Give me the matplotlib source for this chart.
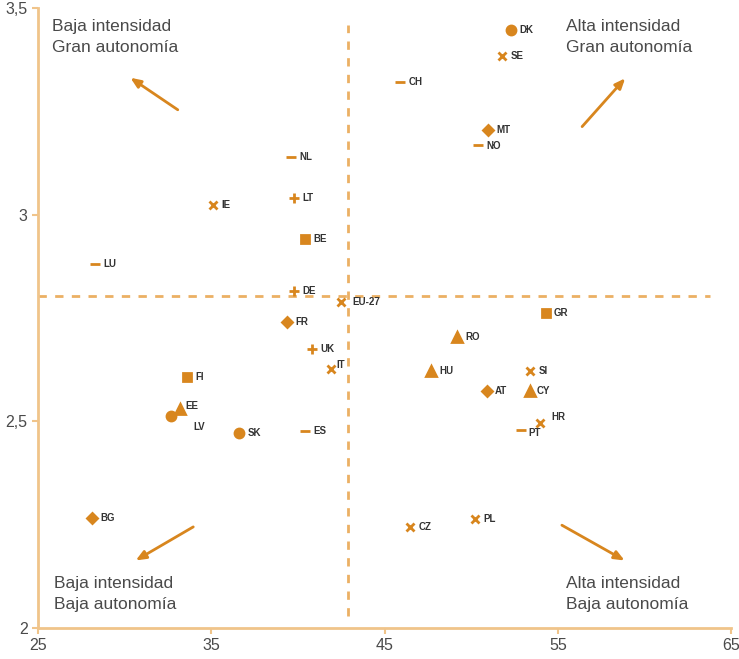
import matplotlib
matplotlib.use("Agg")
import matplotlib.pyplot as plt

# ---- data ----
labels = ["DK", "SE", "CH", "MT", "NO", "NL", "IE", "LT", "BE", "LU", "DE", "EU-27",
          "FR", "UK", "IT", "FI", "EE", "LV", "SK", "ES", "GR", "RO", "HU", "SI",
          "AT", "CY", "HR", "PT", "BG", "CZ", "PL"]
intensity = [52.3, 51.8, 45.9, 51.0, 50.4, 39.6, 35.1, 39.8, 40.4, 28.3, 39.8, 42.5,
             39.4, 40.8, 41.9, 33.6, 33.2, 32.7, 36.6, 40.4, 54.3, 49.2, 47.7, 53.4,
             50.9, 53.4, 54.0, 52.9, 28.1, 46.5, 50.2]
autonomy = [3.447, 3.384, 3.321, 3.205, 3.169, 3.140, 3.023, 3.040, 2.941, 2.881, 2.815, 2.789,
            2.740, 2.675, 2.627, 2.607, 2.530, 2.513, 2.472, 2.477, 2.762, 2.704, 2.622, 2.622,
            2.573, 2.573, 2.496, 2.479, 2.266, 2.244, 2.264]
markers = ["o", "x", "_", "D", "_", "_", "x", "+", "s", "_", "+", "x",
           "D", "+", "x", "s", "^", "o", "o", "_", "s", "^", "^", "x",
           "D", "^", "x", "_", "D", "x", "x"]
threshold_x = 42.9
threshold_y = 2.803
xticks = [25, 35, 45, 55, 65]
yticks = [2.0, 2.5, 3.0, 3.5]
ytick_labels = ["2", "2,5", "3", "3,5"]

# label offsets (points) for crowded spots
offsets = {"EE": (4, 2), "LV": (16, -8), "HR": (8, 4), "NO": (6, -1), "IT": (4, 3),
           "EU-27": (8, 0), "PT": (5, -2), "CY": (5, 0)}

MC = "#D8861E"
LC = "#EBB064"
AX = "#F0C48A"
TC = "#4a4a4a"
FONT = ["Liberation Sans", "DejaVu Sans"]

fig = plt.figure(figsize=(7.39, 6.59), dpi=100)
ax = fig.add_axes([38 / 739, 31 / 659, (731 - 38) / 739, (628 - 8) / 659])

for lab, x, y, m in zip(labels, intensity, autonomy, markers):
    size = {"o": 6.5, "D": 5.5, "s": 5.8, "^": 6.5, "x": 6, "+": 7, "_": 7}[m]
    ax.plot([x], [y], marker=m, ms=size, color=MC, mec=MC, mew=2, linestyle="none", zorder=3)
    dx, dy = offsets.get(lab, (6, 0))
    ax.annotate(lab, (x, y), xytext=(dx, dy), textcoords="offset points",
                fontsize=7, fontweight="bold", color="#333333", va="center", ha="left",
                family=FONT, zorder=4)

ax.plot([threshold_x, threshold_x], [2.03, 3.46], linestyle=(0, (3, 3)), color=LC, lw=2, zorder=1)
ax.plot([25, 63.8], [threshold_y, threshold_y], linestyle=(0, (3, 3)), color=LC, lw=2, zorder=1)

arrow_kw = dict(arrowstyle="-|>,head_length=0.6,head_width=0.25", color=MC, lw=2)
ax.annotate("", xy=(30.2, 3.335), xytext=(33.2, 3.25), arrowprops=arrow_kw)
ax.annotate("", xy=(59.0, 3.335), xytext=(56.3, 3.208), arrowprops=arrow_kw)
ax.annotate("", xy=(30.5, 2.16), xytext=(34.1, 2.248), arrowprops=arrow_kw)
ax.annotate("", xy=(59.0, 2.16), xytext=(55.1, 2.252), arrowprops=arrow_kw)

qkw = dict(fontsize=12.5, color=TC, family=FONT, va="top", ha="left", linespacing=1.55)
ax.text(25.8, 3.474, "Baja intensidad\nGran autonomía", **qkw)
ax.text(55.5, 3.474, "Alta intensidad\nGran autonomía", **qkw)
ax.text(25.95, 2.127, "Baja intensidad\nBaja autonomía", **qkw)
ax.text(55.5, 2.127, "Alta intensidad\nBaja autonomía", **qkw)

ax.set_xlim(25, 65)
ax.set_ylim(2.0, 3.5)
ax.set_xticks(xticks)
ax.set_xticklabels([str(t) for t in xticks])
ax.set_yticks(yticks)
ax.set_yticklabels(ytick_labels)
for s in ["top", "right"]:
    ax.spines[s].set_visible(False)
for s in ["left", "bottom"]:
    ax.spines[s].set_color(AX)
    ax.spines[s].set_linewidth(2)
ax.tick_params(colors=AX, width=1.5, length=4, labelcolor=TC, labelsize=11.5)
for t in ax.get_xticklabels() + ax.get_yticklabels():
    t.set_family(FONT)

fig.savefig("out.png", dpi=100)
